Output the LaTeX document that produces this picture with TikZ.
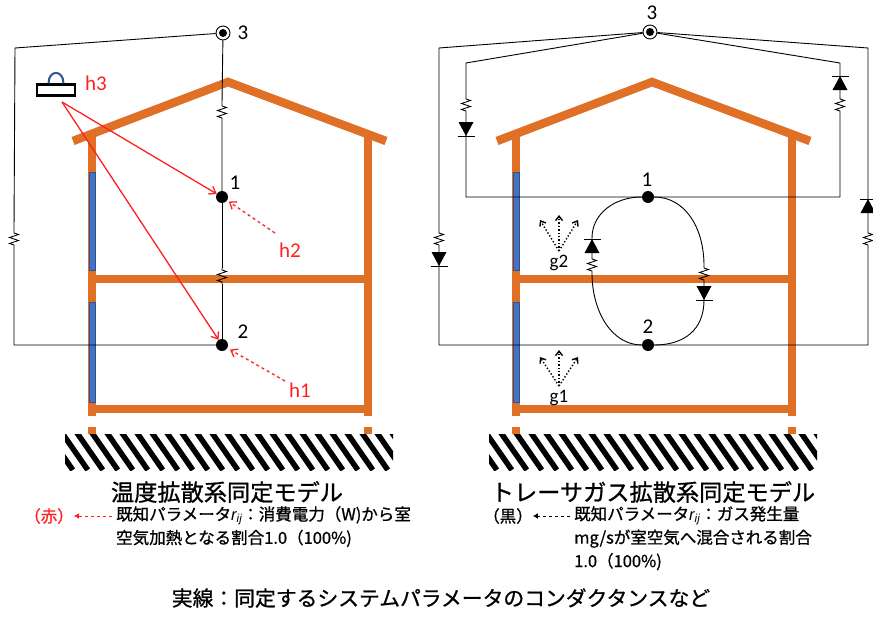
\documentclass[tikz,border=0pt]{standalone}
\usepackage{fontspec}
\setmainfont{Carlito}
\newfontfamily\jp[FakeBold=0.9]{Noto Sans CJK JP}
\newfontfamily\arialf{Liberation Sans}
\usetikzlibrary{arrows.meta}

\definecolor{wallorange}{RGB}{224,112,38}
\definecolor{winblue}{RGB}{68,114,196}
\definecolor{winedge}{RGB}{47,82,143}
\definecolor{heatred}{RGB}{255,32,32}

% r_ij in the key text
\newcommand{\rij}{{\arialf\itshape r\textsubscript{ij}}}

\tikzset{
  wall/.style={wallorange, line width=8pt},
  wire/.style={black, line width=0.9pt},
  dot/.style={circle, fill=black, inner sep=0pt, minimum size=12pt},
  extnode/.style={circle, draw, line width=0.9pt, fill=white, inner sep=0pt, minimum size=14pt,
    path picture={\fill[black] (path picture bounding box.center) circle (4pt);}},
  lbl/.style={font=\fontsize{21}{21}\selectfont, inner sep=0pt},
  redlbl/.style={lbl, text=heatred, font=\fontsize{21}{21}\selectfont},
  glbl/.style={lbl, font=\fontsize{19}{19}\selectfont},
  heat/.style={heatred, line width=1.3pt, -{Straight Barb[length=6pt,width=9pt]}},
  gain/.style={black, line width=1.4pt, dotted, -{Straight Barb[length=4.5pt,width=7pt]}},
  keyarr/.style={line width=1pt, dashed, -{Latex[length=5pt,width=6pt]}, shorten <=4pt},
  ttl/.style={font=\jp\fontsize{23.2}{24}\selectfont, inner sep=0pt},
  note/.style={font=\jp\fontsize{16.5}{23.5}\selectfont, inner sep=0pt, align=left},
  captxt/.style={font=\jp\fontsize{20.8}{22}\selectfont, inner sep=0pt},
  % resistor and diodes, drawn downwards from the pic origin
  zz/.pic={\draw[wire] (0,0) -- (0,2) -- (4.5,3.5) -- (-4.5,6.5) -- (4.5,9.5) -- (-4.5,12.5) -- (0,14) -- (0,16);},
  dn/.pic={\fill (-7.5,0) -- (7.5,0) -- (0,14) -- cycle; \draw[wire] (-8.5,14) -- (8.5,14);},
  up/.pic={\fill (-7.5,14) -- (7.5,14) -- (0,0) -- cycle; \draw[wire] (-8.5,0) -- (8.5,0);},
}

\begin{document}
\begin{tikzpicture}[x=1pt, y=-1pt]
\useasboundingbox (0,0) rectangle (873,618);

% both houses with the ground below
\foreach \dx in {0,424} {
  \begin{scope}
    \clip (65+\dx,434) rectangle (393+\dx,470);
    \foreach \x in {30,45,...,400}
      \draw[line width=5.5pt] (\x+\dx,430) -- ++(27.8,40);
  \end{scope}
  \draw[wall, line width=8.5pt] (73+\dx,141) -- (228+\dx,82) -- (386+\dx,141);
  \draw[wall] (92+\dx,136) -- (92+\dx,416) (368+\dx,136) -- (368+\dx,416);
  \draw[wall] (92+\dx,279) -- (368+\dx,279) (92+\dx,409) -- (368+\dx,409);
  \draw[wall] (92+\dx,427) -- (92+\dx,434) (368+\dx,427) -- (368+\dx,434);
  \draw[winedge, fill=winblue, line width=0.8pt] (89+\dx,172) rectangle (95+\dx,270)
    (89+\dx,302) rectangle (95+\dx,402);
}

% temperature model
\node[extnode] (a3) at (223,33) {};
\node[dot] (a1) at (222,197) {};
\node[dot] (a2) at (222,345) {};
\node[lbl] (a3l) at (243,33) {3};
\node[lbl] (a1l) at (235,183) {1};
\node[lbl] (a2l) at (243,332) {2};

\draw[wire] (a3) -- (222,104) pic{zz} (222,120) -- (a1);
\draw[wire] (a1) -- (222,268) pic{zz} (222,284) -- (a2);
\draw[wire] (a3) -- (15,48) -- (14,231) pic{zz} (14,247) -- (14,345) -- (a2);

% heater
\node[draw, line width=2.2pt, minimum width=38pt, minimum height=11pt, inner sep=0pt] (heater) at (56,90) {};
\draw[winedge, line width=2pt] ([xshift=-7.5pt]heater.north) .. controls +(0,-14) and +(0,-14) .. ([xshift=7.5pt]heater.north);
\node[redlbl] (h3) at (96,83) {h3};
\coordinate (hsrc) at (62,102);
\draw[heat] (hsrc) -- (a1);
\draw[heat] (hsrc) -- (a2);

\coordinate (h2src) at (275,233);
\node[redlbl] (h2) at (290,250) {h2};
\draw[heat, dashed, shorten >=2pt] (h2src) -- (a1);
\coordinate (h1src) at (285,381);
\node[redlbl] (h1) at (300,390) {h1};
\draw[heat, dashed, shorten >=3pt] (h1src) -- (a2);

% tracer gas model
\node[extnode] (b3) at (650,32) {};
\node[dot] (b1) at (648,197) {};
\node[dot] (b2) at (648,345) {};
\node[lbl] (b3l) at (652,13) {3};
\node[lbl] (b1l) at (647,180) {1};
\node[lbl] (b2l) at (648,327) {2};

\draw[wire] (b3) -- (439,48) -- (439,231) pic{zz} (439,247) -- (439,345) -- (b2) -- (868,345)
  -- (868,247) (868,231) pic{zz} -- (868,48) -- (b3);
\pic at (439,252) {dn};
\pic at (868,199) {up};

\draw[wire] (b3) -- (466,63) -- (466,97) pic{zz} (466,113) -- (466,197) -- (b1) -- (840,197)
  -- (840,113) (840,97) pic{zz} -- (840,63) -- (b3);
\pic at (466,122) {dn};
\pic at (840,76) {up};

% loop between the two rooms
\draw[wire] (b1) .. controls (614,197) and (592,214) .. (592,238) -- (592,257) pic{zz}
  (592,273) .. controls (592,312) and (612,345) .. (b2);
\pic at (592,239) {up};
\draw[wire] (b1) .. controls (684,197) and (704,226) .. (704,266) pic{zz}
  (704,282) -- (704,300) .. controls (704,330) and (684,345) .. (b2);
\pic at (704,286) {dn};

% gas sources
\node[glbl] (g2) at (559,263) {g2};
\coordinate (g2src) at (559,251);
\foreach \tx/\ty in {-19/-31,0/-36,19/-31}
  \draw[gain] (g2src) -- ++(\tx,\ty);
\node[glbl] (g1) at (559,398) {g1};
\coordinate (g1src) at (559,386);
\foreach \tx/\ty in {-19/-29,0/-36,19/-29}
  \draw[gain] (g1src) -- ++(\tx,\ty);

% captions and key
\node[ttl] (ttlL) at (227,492) {温度拡散系同定モデル};
\node[ttl] (ttlR) at (653,492) {トレーサガス拡散系同定モデル};

\node[note, text=heatred] (redtag) at (49,516) {（赤）};
\node[note, anchor=north west] (knownL) at (116,506) {既知パラメータ\rij：消費電力（W)から室\\空気加熱となる割合1.0（100\%)};
\draw[keyarr, heatred] (knownL.west |- redtag) -- (redtag);

\node[note] (blacktag) at (508,516) {（黒）};
\node[note, anchor=north west] (knownR) at (574,506) {既知パラメータ\rij：ガス発生量\\mg/sが室空気へ混合される割合\\1.0（100\%)};
\draw[keyarr] (knownR.west |- blacktag) -- (blacktag);

\node[captxt] (solid) at (441,598) {実線：同定するシステムパラメータのコンダクタンスなど};
\end{tikzpicture}
\end{document}
